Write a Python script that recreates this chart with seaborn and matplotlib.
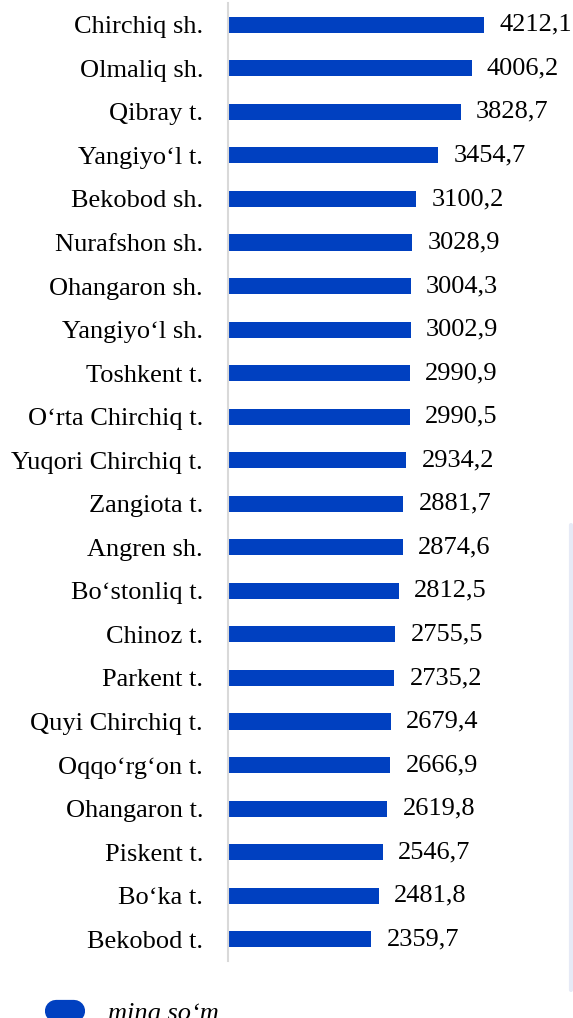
import matplotlib
matplotlib.use("Agg")
import matplotlib.pyplot as plt
from matplotlib.lines import Line2D
import seaborn as sns
import pandas as pd

# Datos del gráfico
districts = [
    "Chirchiq sh.", "Olmaliq sh.", "Qibray t.", "Yangiyo‘l t.", "Bekobod sh.",
    "Nurafshon sh.", "Ohangaron sh.", "Yangiyo‘l sh.", "Toshkent t.",
    "O‘rta Chirchiq t.", "Yuqori Chirchiq t.", "Zangiota t.", "Angren sh.",
    "Bo‘stonliq t.", "Chinoz t.", "Parkent t.", "Quyi Chirchiq t.",
    "Oqqo‘rg‘on t.", "Ohangaron t.", "Piskent t.", "Bo‘ka t.", "Bekobod t.",
]
values = [
    4212.1, 4006.2, 3828.7, 3454.7, 3100.2, 3028.9, 3004.3, 3002.9, 2990.9,
    2990.5, 2934.2, 2881.7, 2874.6, 2812.5, 2755.5, 2735.2, 2679.4, 2666.9,
    2619.8, 2546.7, 2481.8, 2359.7,
]
legend_label = "ming so‘m"

df = pd.DataFrame({"district": districts, "value": values})

sns.set_theme(style="white")
plt.rcParams["font.family"] = ["Liberation Serif", "DejaVu Serif"]

bar_color = "#0040C0"

fig = plt.figure(figsize=(5.73, 10.18), dpi=100)
ax = fig.add_axes([228 / 573, 57 / 1018, 1 - 228 / 573, 958 / 1018])

sns.barplot(data=df, x="value", y="district", color=bar_color, width=0.37,
            saturation=1, edgecolor="none", ax=ax)

ax.set_xlim(0, 5676)
ax.set_ylim(len(districts) - 0.5, -0.5)
ax.set_xlabel("")
ax.set_ylabel("")
ax.set_xticks([])
ax.tick_params(axis="y", length=0, pad=18, labelsize=19, labelcolor="black")

for s in ["top", "right", "bottom"]:
    ax.spines[s].set_visible(False)
ax.spines["left"].set_color("#D9D9D9")
ax.spines["left"].set_linewidth(1.5)

labels = [f"{v:.1f}".replace(".", ",") for v in values]
ax.bar_label(ax.containers[0], labels=labels, padding=11, fontsize=19, color="black")

# Leyenda con marcador redondeado
handle = Line2D([0], [0], color=bar_color, linewidth=16, solid_capstyle="round")
fig.legend(handles=[handle], labels=[legend_label], loc="center left",
           bbox_to_anchor=(32 / 573, 1 - 1013 / 1018), frameon=False,
           handlelength=0.68, handletextpad=1.29, labelcolor="black",
           prop={"family": "Liberation Serif", "style": "italic", "size": 19})

# Borde tenue a la derecha
fig.add_artist(Line2D([571 / 573, 571 / 573], [1 - 525 / 1018, 1 - 990 / 1018],
                      transform=fig.transFigure, color="#E6EAF6", linewidth=3))

fig.savefig("out.png", dpi=100)
